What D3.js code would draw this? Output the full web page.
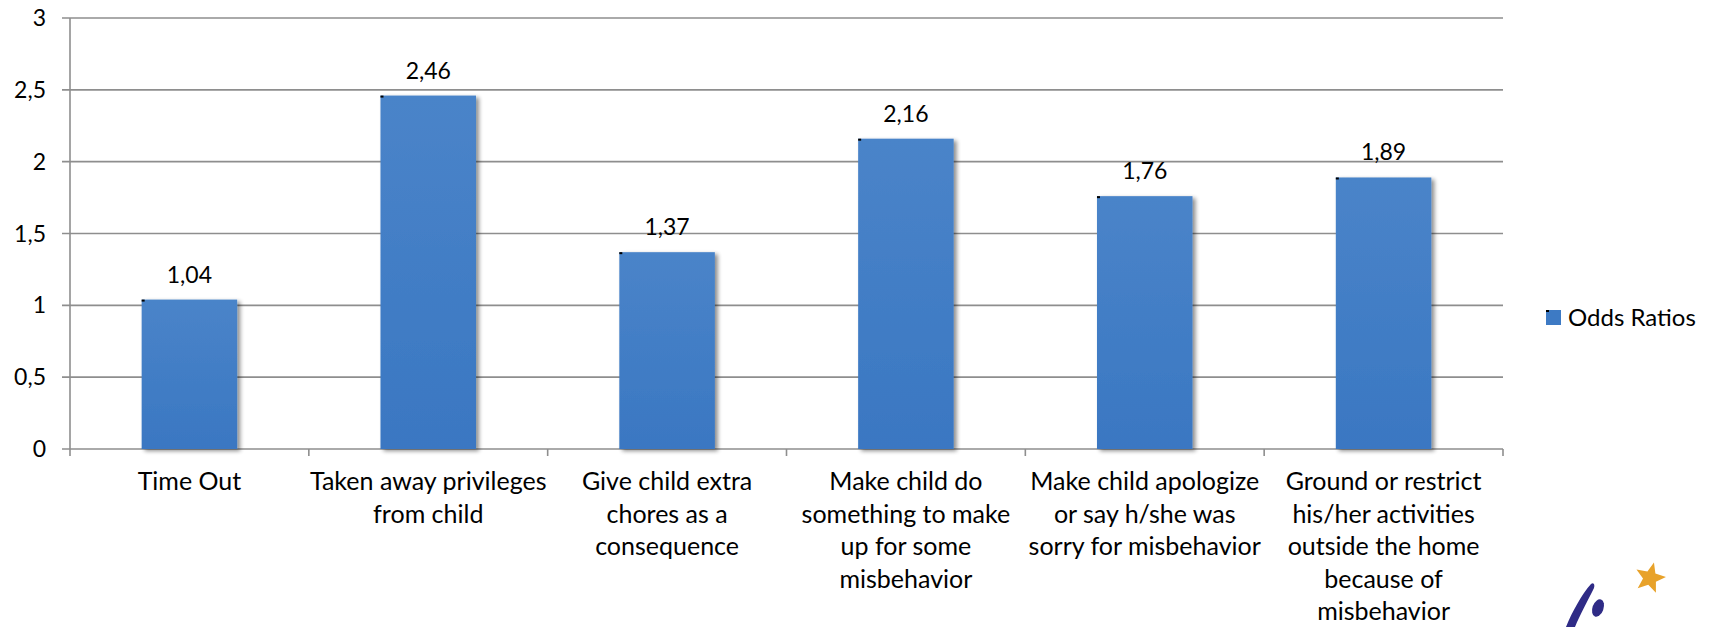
<!DOCTYPE html>
<html>
<head>
<meta charset="utf-8">
<script src="https://cdn.jsdelivr.net/npm/d3@7"></script>
<style>
  body { margin: 0; background: #fff; }
  svg { display: block; font-family: Lato, "Open Sans", sans-serif; }
</style>
</head>
<body>
<svg id="chart" width="1709" height="627"></svg>
<script>
// data
const categories = ["Time Out", "Taken away privileges from child", "Give child extra chores as a consequence",
    "Make child do something to make up for some misbehavior", "Make child apologize or say h/she was sorry for misbehavior",
    "Ground or restrict his/her activities outside the home because of misbehavior"]
const labelLines = [
    ["Time Out"],
    ["Taken away privileges", "from child"],
    ["Give child extra", "chores as a", "consequence"],
    ["Make child do", "something to make", "up for some", "misbehavior"],
    ["Make child apologize", "or say h/she was", "sorry for misbehavior"],
    ["Ground or restrict", "his/her activities", "outside the home", "because of", "misbehavior"]
]
const oddsRatios = [1.04, 2.46, 1.37, 2.16, 1.76, 1.89]
const yTicks = [0, 0.5, 1, 1.5, 2, 2.5, 3]
const seriesName = "Odds Ratios"

const svgContainer = d3.select("#chart")
const margin = { left: 70, right: 206, top: 18, bottom: 178 }
const width = 1709, height = 627

const x = d3.scaleBand()
    .domain(categories)
    .range([margin.left, width - margin.right])
    .paddingInner(0.6)
    .paddingOuter(0.3)

const band = d3.scaleBand()
    .domain(categories)
    .range([margin.left, width - margin.right])

const y = d3.scaleLinear()
    .domain([0, 3])
    .range([height - margin.bottom, margin.top])

const fmt = v => d3.format(",.2~f")(v).replace(".", ",")

// shadow + gradient
const defs = svgContainer.append("defs")
const shadow = defs.append("filter").attr("id", "shadow")
    .attr("x", "-10%").attr("y", "-10%").attr("width", "130%").attr("height", "130%")
shadow.append("feGaussianBlur").attr("in", "SourceAlpha").attr("stdDeviation", 2)
shadow.append("feOffset").attr("dx", 3).attr("dy", 2).attr("result", "off")
shadow.append("feComponentTransfer").append("feFuncA").attr("type", "linear").attr("slope", 0.45)
const merge = shadow.append("feMerge")
merge.append("feMergeNode")
merge.append("feMergeNode").attr("in", "SourceGraphic")

const grad = defs.append("linearGradient").attr("id", "barFill")
    .attr("x1", 0).attr("y1", 0).attr("x2", 0).attr("y2", 1)
grad.append("stop").attr("offset", "0%").attr("stop-color", "#4a84c9")
grad.append("stop").attr("offset", "100%").attr("stop-color", "#3a77c2")

// gridlines
svgContainer.append("g")
    .selectAll("line")
    .data(yTicks)
    .enter()
    .append("line")
    .attr("x1", margin.left - 8)
    .attr("x2", width - margin.right)
    .attr("y1", d => y(d))
    .attr("y2", d => y(d))
    .style("stroke", "#8e8e8e")
    .style("stroke-width", 1.6)

// y axis line
svgContainer.append("line")
    .attr("x1", margin.left).attr("x2", margin.left)
    .attr("y1", y(3)).attr("y2", y(0))
    .style("stroke", "#8e8e8e")
    .style("stroke-width", 1.6)

// y labels
svgContainer.append("g")
    .selectAll("text")
    .data(yTicks)
    .enter()
    .append("text")
    .attr("x", 46)
    .attr("y", d => y(d))
    .attr("dy", "0.35em")
    .attr("text-anchor", "end")
    .style("font-size", "23px")
    .style("fill", "#000")
    .text(d => fmt(d))

// x tick marks at band boundaries
const bounds = categories.map(c => band(c)).concat([width - margin.right])
svgContainer.append("g")
    .selectAll("line")
    .data(bounds)
    .enter()
    .append("line")
    .attr("x1", d => d).attr("x2", d => d)
    .attr("y1", y(0)).attr("y2", y(0) + 7)
    .style("stroke", "#8e8e8e")
    .style("stroke-width", 1.6)

// bars
svgContainer.append("g")
    .selectAll("rect")
    .data(oddsRatios)
    .enter()
    .append("rect")
    .attr("x", (d, i) => x(categories[i]))
    .attr("y", d => y(d))
    .attr("width", x.bandwidth())
    .attr("height", d => y(0) - y(d))
    .style("fill", "url(#barFill)")
    .style("filter", "url(#shadow)")

// little corner marks
svgContainer.append("g")
    .selectAll("rect")
    .data(oddsRatios)
    .enter()
    .append("rect")
    .attr("x", (d, i) => x(categories[i]))
    .attr("y", d => y(d))
    .attr("width", 3)
    .attr("height", 2)
    .style("fill", "#000")

// value labels
svgContainer.append("g")
    .selectAll("text")
    .data(oddsRatios)
    .enter()
    .append("text")
    .attr("x", (d, i) => x(categories[i]) + x.bandwidth() / 2)
    .attr("y", d => y(d) - 17)
    .attr("text-anchor", "middle")
    .style("font-size", "23px")
    .style("fill", "#000")
    .text(d => fmt(d))

// category labels
const catText = svgContainer.append("g")
    .selectAll("text")
    .data(labelLines)
    .enter()
    .append("text")
    .attr("text-anchor", "middle")
    .style("font-size", "25px")
    .style("fill", "#000")

catText.selectAll("tspan")
    .data((d, i) => d.map(line => ({ line, i })))
    .enter()
    .append("tspan")
    .attr("x", d => band(categories[d.i]) + band.bandwidth() / 2)
    .attr("y", (d, j) => 490 + j * 32.5)
    .text(d => d.line)

// legend
const legend = svgContainer.append("g")
legend.append("rect")
    .attr("x", 1546).attr("y", 310)
    .attr("width", 15).attr("height", 15)
    .style("fill", "#3d7ac4")
legend.append("rect")
    .attr("x", 1546).attr("y", 310)
    .attr("width", 3).attr("height", 2)
    .style("fill", "#000")
legend.append("text")
    .attr("x", 1568).attr("y", 318)
    .attr("dy", "0.35em")
    .style("font-size", "24px")
    .text(seriesName)

// logo fragment, bottom right
const logo = svgContainer.append("g")
logo.append("path")
    .attr("d", "M1591,584 C1594,582 1595,585 1594,588 C1588,600 1580,615 1575,627 L1566,627 C1572,612 1582,594 1591,584 Z")
    .style("fill", "#2f2b86")
logo.append("ellipse")
    .attr("cx", 1598).attr("cy", 608)
    .attr("rx", 5.5).attr("ry", 9)
    .attr("transform", "rotate(20 1598 608)")
    .style("fill", "#2f2b86")
const star = d3.range(10).map(k => {
    const r = k % 2 === 0 ? 16 : 7
    const a = -Math.PI / 2 + k * Math.PI / 5 + 0.25
    return [1650 + r * Math.cos(a), 578 + r * Math.sin(a)]
})
logo.append("path")
    .attr("d", d3.line()(star) + "Z")
    .style("fill", "#e8a22a")
</script>
</body>
</html>
